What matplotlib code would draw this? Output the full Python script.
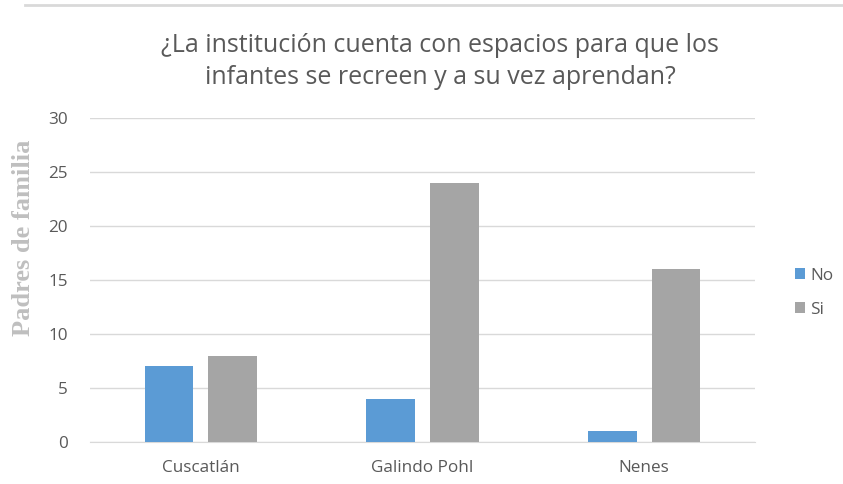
import numpy as np
import matplotlib.pyplot as plt
from matplotlib.lines import Line2D

categories = ["Cuscatlán", "Galindo Pohl", "Nenes"]
no_values = [7, 4, 1]
si_values = [8, 24, 16]
series_names = ["No", "Si"]

title = "¿La institución cuenta con espacios para que los\ninfantes se recreen y a su vez aprendan?"

plt.rcParams['font.family'] = ['Open Sans', 'DejaVu Sans']

fig = plt.figure(figsize=(8.43, 4.84), dpi=100)
ax = fig.add_axes([0.1068, 0.0868, 0.7888, 0.6694])

x = np.arange(len(categories))
w = 0.22
gap = 0.068
ax.bar(x - (w + gap) / 2, no_values, w, color="#5B9BD5", label=series_names[0], zorder=3)
ax.bar(x + (w + gap) / 2, si_values, w, color="#A5A5A5", label=series_names[1], zorder=3)

ax.set_xlim(-0.5, len(categories) - 0.5)
ax.set_ylim(0, 30)
ax.set_yticks(range(0, 31, 5))
ax.set_xticks(x)
ax.set_xticklabels(categories)
ax.tick_params(colors="#595959", labelsize=12.3, length=0)
ax.tick_params(axis="y", pad=16)
ax.tick_params(axis="x", pad=13)
ax.grid(axis="y", color="#D9D9D9", linewidth=1, zorder=0)
for s in ["top", "right", "left"]:
    ax.spines[s].set_visible(False)
ax.spines["bottom"].set_color("#D9D9D9")

# eje y: etiqueta centrada mas arriba que el eje
fig.text(0.028, 0.508, "Padres de familia", family="Liberation Serif", fontweight="bold",
         fontsize=19, color="#BFBFBF", rotation=90, ha="center", va="center")

fig.text(0.522, 0.873, title, ha="center", va="center", fontsize=18,
         color="#595959", linespacing=1.35)

fig.legend(loc="center left", bbox_to_anchor=(0.925, 0.395), frameon=False,
           fontsize=12.3, labelcolor="#595959", handlelength=0.6, handleheight=0.6,
           handletextpad=0.3, labelspacing=1.05)

fig.add_artist(Line2D([0.03, 1.0], [0.99, 0.99], color="#D9D9D9", linewidth=2,
                      transform=fig.transFigure))

fig.savefig("out.png", dpi=100, facecolor="white")
